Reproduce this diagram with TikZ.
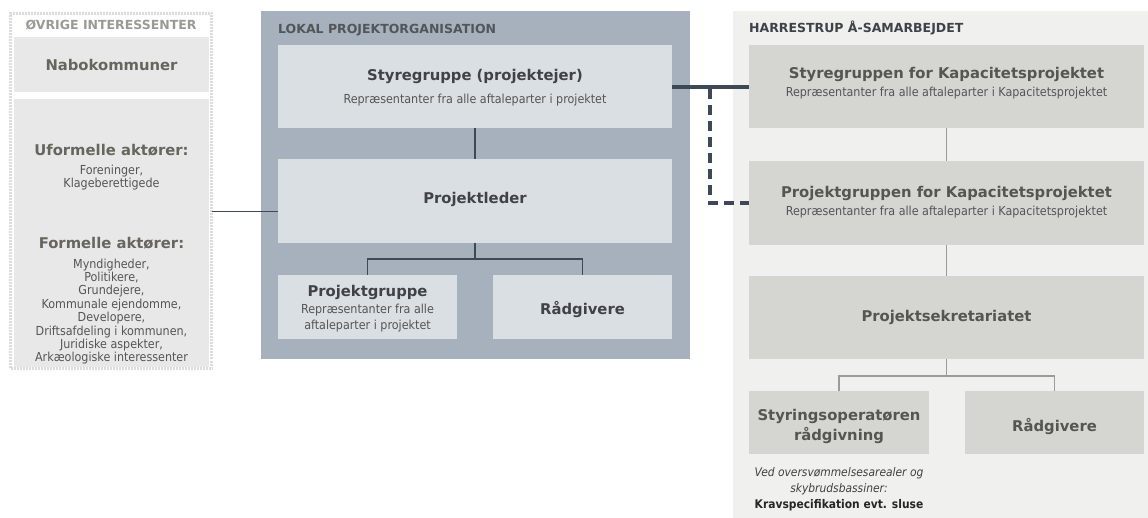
\documentclass[tikz,border=0pt]{standalone}
\usepackage{fontspec}
\setmainfont{DejaVu Sans}
\newfontfamily\cond{DejaVu Sans Condensed}
\definecolor{midbg}{HTML}{A7B1BD}
\definecolor{midbox}{HTML}{DADFE3}
\definecolor{midtxt}{HTML}{3F4347}
\definecolor{rbg}{HTML}{F0F0EF}
\definecolor{rbox}{HTML}{D5D5D1}
\definecolor{rtxt}{HTML}{555552}
\definecolor{lbox}{HTML}{E8E8E8}
\definecolor{ldot}{HTML}{DCDCDC}
\definecolor{ltitle}{HTML}{9A9A95}
\definecolor{ltxt}{HTML}{66665F}
\definecolor{darkline}{HTML}{3D4957}
\definecolor{greyline}{HTML}{9C9C96}
\definecolor{subtxt}{HTML}{555555}
\tikzset{
  box/.style={draw=none,inner sep=0pt,outer sep=0pt,anchor=center},
  head/.style={font=\fontsize{14.8}{17}\selectfont\bfseries,inner sep=0pt,align=center},
  sub/.style={font=\cond\fontsize{12.4}{16}\selectfont,inner sep=0pt,align=center,text=subtxt},
  ttl/.style={font=\fontsize{12.5}{14}\selectfont\bfseries,inner sep=0pt,anchor=west},
  conn/.style={draw=darkline,line width=1.3pt},
  gconn/.style={draw=greyline,line width=1.3pt},
  thick/.style={draw=darkline,line width=4pt},
}
\begin{document}
\begin{tikzpicture}[x=1pt,y=-1pt]
\useasboundingbox (0,0) rectangle (1148,518);
\fill[white] (0,0) rectangle (1148,518);
% left group
\node[box,fill=white,draw=ldot,line width=3pt,dash pattern=on 2pt off 1pt,minimum width=201pt,minimum height=355pt] (outerL) at (111,191) {};
\node[ttl,text=ltitle,anchor=center] (ltitle) at (111,25) {ØVRIGE INTERESSENTER};
\node[box,fill=lbox,minimum width=195pt,minimum height=55pt] (nabo) at (111.5,64.5) {};
\node[head,text=ltxt] (nabot) at (111.5,65) {Nabokommuner};
\node[box,fill=lbox,minimum width=195pt,minimum height=268pt] (aktor) at (111.5,233) {};
\node[head,text=ltxt] (uf) at (111.5,150) {Uformelle aktører:};
\node[sub,font=\cond\fontsize{12.4}{13.4}\selectfont] (uft) at (111.5,177.5) {Foreninger,\\Klageberettigede};
\node[head,text=ltxt] (fo) at (111.5,243) {Formelle aktører:};
\node[sub,font=\cond\fontsize{12.4}{13.4}\selectfont] (fot) at (111.5,311.5) {Myndigheder,\\Politikere,\\Grundejere,\\Kommunale ejendomme,\\Developere,\\Driftsafdeling i kommunen,\\Juridiske aspekter,\\Arkæologiske interessenter};
% middle group
\node[box,fill=midbg,minimum width=429pt,minimum height=348pt] (outerM) at (475.5,185) {};
\node[ttl,text=midtxt!90] (mtitle) at (278,30) {LOKAL PROJEKTORGANISATION};
\node[box,fill=midbox,minimum width=394pt,minimum height=83pt] (styre) at (475,86.5) {};
\node[head,text=midtxt] (styret) at (475,76) {Styregruppe (projektejer)};
\node[sub] (styres) at (475,100) {Repræsentanter fra alle aftaleparter i projektet};
\node[box,fill=midbox,minimum width=394pt,minimum height=84pt] (pleder) at (475,201) {};
\node[head,text=midtxt] (pledert) at (475,199) {Projektleder};
\node[box,fill=midbox,minimum width=179pt,minimum height=64pt] (pgrp) at (367.5,307) {};
\node[head,text=midtxt] (pgrpt) at (367.5,292) {Projektgruppe};
\node[sub] (pgrps) at (367.5,318) {Repræsentanter fra alle\\aftaleparter i projektet};
\node[box,fill=midbox,minimum width=179pt,minimum height=64pt] (radg) at (582.5,307) {};
\node[head,text=midtxt] (radgt) at (582.5,310) {Rådgivere};
% right group
\node[box,fill=rbg,minimum width=415pt,minimum height=507pt] (outerR) at (940.5,264.5) {};
\node[ttl,text=midtxt] (rtitle) at (749,28) {HARRESTRUP Å-SAMARBEJDET};
\node[box,fill=rbox,minimum width=395pt,minimum height=83pt] (styreR) at (946.5,86.5) {};
\node[head,text=rtxt] (styreRt) at (946.5,74) {Styregruppen for Kapacitetsprojektet};
\node[sub] (styreRs) at (946.5,93) {Repræsentanter fra alle aftaleparter i Kapacitetsprojektet};
\node[box,fill=rbox,minimum width=395pt,minimum height=84pt] (pgrpR) at (946.5,203) {};
\node[head,text=rtxt] (pgrpRt) at (946.5,193) {Projektgruppen for Kapacitetsprojektet};
\node[sub] (pgrpRs) at (946.5,212) {Repræsentanter fra alle aftaleparter i Kapacitetsprojektet};
\node[box,fill=rbox,minimum width=395pt,minimum height=83pt] (sekr) at (946.5,317.5) {};
\node[head,text=rtxt] (sekrt) at (946.5,317) {Projektsekretariatet};
\node[box,fill=rbox,minimum width=180pt,minimum height=63pt] (styop) at (839,422.5) {};
\node[head,text=rtxt,font=\fontsize{14.8}{20}\selectfont\bfseries] (styopt) at (839,426) {Styringsoperatøren\\rådgivning};
\node[box,fill=rbox,minimum width=179pt,minimum height=63pt] (radgR) at (1054.5,422.5) {};
\node[head,text=rtxt] (radgRt) at (1054.5,427) {Rådgivere};
\node[sub,font=\cond\itshape\fontsize{11.9}{16}\selectfont,text=black!75] (note) at (839,481) {Ved oversvømmelsesarealer og\\skybrudsbassiner:};
\node[sub,font=\cond\bfseries\fontsize{11.9}{13}\selectfont,text=black!85] (notek) at (839,505) {Kravspecifikation evt. sluse};
% connectors
\coordinate (lj) at (outerL.east |- 0,211.5);
\draw[conn] (lj) -- (pleder.west |- lj);
\draw[conn] (styre.south) -- (pleder.north);
\coordinate (mj) at (475,259);
\draw[conn] (pleder.south) -- (mj);
\draw[conn] (pgrp.north) |- (mj) -| (radg.north);
\coordinate (tj) at (710,87);
\draw[thick] (styre.east |- tj) -- (styreR.west |- tj);
\draw[thick,dash pattern=on 10pt off 6pt] (tj) ++(0,2) |- (pgrpR.west);
\draw[gconn] (styreR.south) -- (pgrpR.north);
\draw[gconn] (pgrpR.south) -- (sekr.north);
\coordinate (rj) at (946.5,376);
\draw[gconn] (sekr.south) -- (rj);
\draw[gconn] (styop.north) |- (rj) -| (radgR.north);
\end{tikzpicture}
\end{document}
